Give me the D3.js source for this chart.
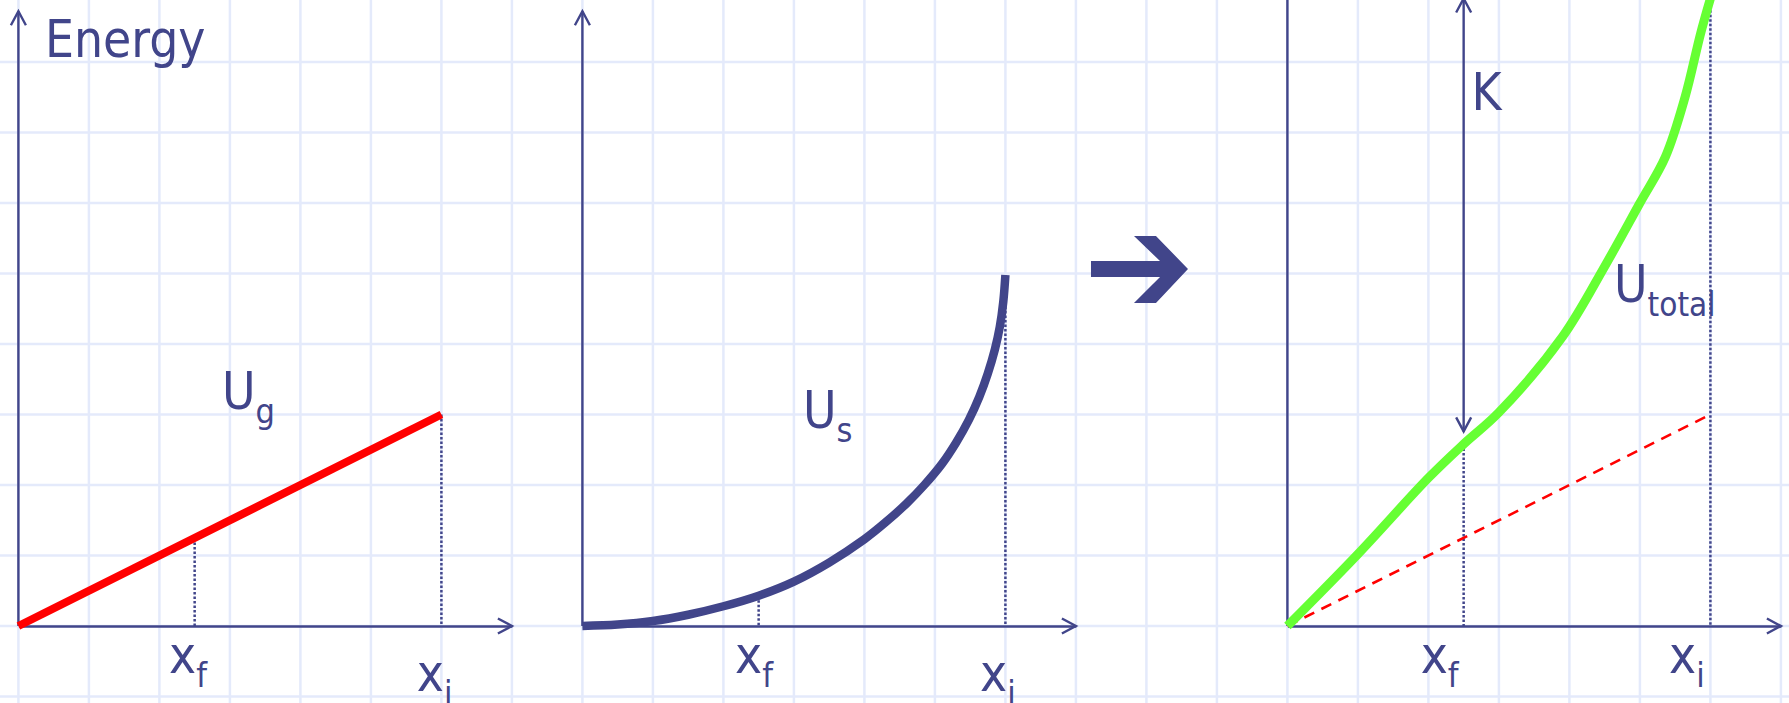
<!DOCTYPE html>
<html>
<head>
<meta charset="utf-8">
<script src="https://cdn.jsdelivr.net/npm/d3@7"></script>
<style>
html, body { margin: 0; padding: 0; background: #fff; overflow: hidden; }
svg { display: block; }
text { font-family: "DejaVu Sans Condensed", "DejaVu Sans", sans-serif; font-stretch: condensed; fill: #41458a; }
</style>
</head>
<body>
<div id="chart"></div>
<script>
// values are in grid squares
var ugX = [0, 6];
var ugY = [0, 3];
var usX = [0, 0.5, 1, 1.5, 2, 2.5, 3, 3.5, 4, 4.3, 4.6, 4.85, 5.1, 5.3, 5.48, 5.63, 5.75, 5.85, 5.92, 5.97, 6];
var usY = [0, 0.02, 0.07, 0.16, 0.28, 0.43, 0.63, 0.9, 1.23, 1.47, 1.74, 2.0, 2.3, 2.6, 2.92, 3.25, 3.58, 3.92, 4.24, 4.6, 4.98];
var totalX = [0, 1, 2, 2.5, 3, 3.9, 4.5, 5, 5.36, 5.64, 5.86, 6];
var totalY = [0, 1.02, 2.1, 2.58, 3.03, 4.1, 5.1, 6.0, 6.65, 7.5, 8.4, 8.9];
var markSubs = ["f", "i"];
var markX = [2.5, 6];
var kBottom = 2.76, kTop = 8.9;

function drawEnergy(){
    var width = 1789, height = 703;
    var cell = 70.5, left0 = 18.4, base = 626;
    var navy = "#41458a";

    var svg = d3.select("#chart")
        .append("svg")
        .attr("width", width)
        .attr("height", height);

    // global grid scales (one unit = one square)
    var gx = d3.scaleLinear().domain([0, 1]).range([left0, left0 + cell]);
    var gy = d3.scaleLinear().domain([0, 1]).range([base, base - cell]);

    svg.append("g").selectAll("line")
        .data(d3.range(-1, 26))
        .enter().append("line")
        .attr("x1", d => gx(d)).attr("x2", d => gx(d))
        .attr("y1", 0).attr("y2", height)
        .attr("stroke", "#e4eafb").attr("stroke-width", 2.5);
    svg.append("g").selectAll("line")
        .data(d3.range(-1, 10))
        .enter().append("line")
        .attr("y1", d => gy(d)).attr("y2", d => gy(d))
        .attr("x1", 0).attr("x2", width)
        .attr("stroke", "#e4eafb").attr("stroke-width", 2.5);

    function pts(xs, ys){ return xs.map((v, i) => [v, ys[i]]); }

    function chevron(g, x, y, dir){
        // open arrow head, dir: "up", "down", "right"
        var L = 14, w = 7.5, d;
        if (dir === "right") d = "M" + (x - L) + "," + (y - w) + "L" + x + "," + y + "L" + (x - L) + "," + (y + w);
        if (dir === "up") d = "M" + (x - w) + "," + (y + L) + "L" + x + "," + y + "L" + (x + w) + "," + (y + L);
        if (dir === "down") d = "M" + (x - w) + "," + (y - L) + "L" + x + "," + y + "L" + (x + w) + "," + (y - L);
        g.append("path").attr("d", d).attr("fill", "none")
            .attr("stroke", navy).attr("stroke-width", 2.4);
    }

    function label(g, x, y, main, sub, size, subSize){
        var t = g.append("text").attr("x", x).attr("y", y).style("font-size", size + "px");
        t.append("tspan").text(main);
        if (sub) t.append("tspan").attr("dy", 14).style("font-size", subSize + "px").text(sub);
    }

    function panel(col, yTop, yArrow){
        var x = d3.scaleLinear().domain([0, 7]).range([gx(col), gx(col + 7)]);
        var y = d3.scaleLinear().domain([0, 9]).range([gy(0), gy(9)]);
        var g = svg.append("g");
        return {x: x, y: y, g: g, axes: function(){
            g.append("g").attr("transform", "translate(0," + y(0) + ")")
                .call(d3.axisBottom(x).tickValues([]).tickSizeOuter(0))
                .select(".domain").attr("stroke", navy).attr("stroke-width", 2.4);
            g.append("line").attr("x1", x(0)).attr("x2", x(0))
                .attr("y1", y(0)).attr("y2", y(yTop))
                .attr("stroke", navy).attr("stroke-width", 2.4);
            chevron(g, x(7), y(0), "right");
            if (yArrow) chevron(g, x(0), y(yTop), "up");
        }};
    }

    function dotted(p, xv, y0, y1){
        p.g.append("line").attr("x1", p.x(xv)).attr("x2", p.x(xv))
            .attr("y1", p.y(y0)).attr("y2", p.y(y1))
            .attr("stroke", navy).attr("stroke-width", 2.5)
            .attr("stroke-dasharray", "2.5,2");
    }

    // ---- panel 1 : gravity ----
    var p1 = panel(0, 8.72, true);
    var ugAt = d3.scaleLinear().domain(ugX).range(ugY);
    markX.forEach(v => dotted(p1, v, ugAt(v), 0));
    p1.axes();
    var line1 = d3.line().x(d => p1.x(d[0])).y(d => p1.y(d[1]));
    p1.g.append("path").datum(pts(ugX, ugY)).attr("d", line1)
        .attr("fill", "none").attr("stroke", "#ff0000").attr("stroke-width", 8);
    label(p1.g, p1.x(0.377), p1.y(8.07), "Energy", null, 51);
    label(p1.g, p1.x(2.887), p1.y(3.078), "U", "g", 51, 34);
    label(p1.g, p1.x(markX[0] - 0.364), p1.y(-0.66), "x", markSubs[0], 51, 34);
    label(p1.g, p1.x(markX[1] - 0.35), p1.y(-0.922), "x", markSubs[1], 51, 34);

    // ---- panel 2 : spring ----
    var p2 = panel(8, 8.72, true);
    dotted(p2, markX[0], usY[5], 0);
    dotted(p2, markX[1], usY[usY.length - 1], 0);
    p2.axes();
    var line2 = d3.line().curve(d3.curveCatmullRom.alpha(0.5)).x(d => p2.x(d[0])).y(d => p2.y(d[1]));
    p2.g.append("path").datum(pts(usX, usY)).attr("d", line2)
        .attr("fill", "none").attr("stroke", navy).attr("stroke-width", 8.5);
    label(p2.g, p2.x(3.129), p2.y(2.809), "U", "s", 51, 34);
    label(p2.g, p2.x(markX[0] - 0.335), p2.y(-0.66), "x", markSubs[0], 51, 34);
    label(p2.g, p2.x(markX[1] - 0.36), p2.y(-0.922), "x", markSubs[1], 51, 34);

    // ---- block arrow between panels ----
    var arrow = [[15.214, 5.177], [16.193, 5.177], [15.824, 5.532], [16.136, 5.532], [16.59, 5.064],
                 [16.136, 4.582], [15.824, 4.582], [16.193, 4.95], [15.214, 4.95]];
    svg.append("path")
        .attr("d", "M" + arrow.map(d => gx(d[0]) + "," + gy(d[1])).join("L") + "Z")
        .attr("fill", navy);

    // ---- panel 3 : total ----
    var p3 = panel(18, 9.5, false);
    dotted(p3, markX[0], totalY[3], 0);
    dotted(p3, markX[1], 9.5, 0);
    p3.axes();
    var line3 = d3.line().x(d => p3.x(d[0])).y(d => p3.y(d[1]));
    p3.g.append("path").datum(pts(ugX, ugY)).attr("d", line3)
        .attr("fill", "none").attr("stroke", "#ff0000").attr("stroke-width", 2.6)
        .attr("stroke-dasharray", "11,8");
    var line3c = d3.line().curve(d3.curveCatmullRom.alpha(0.5)).x(d => p3.x(d[0])).y(d => p3.y(d[1]));
    p3.g.append("path").datum(pts(totalX, totalY)).attr("d", line3c)
        .attr("fill", "none").attr("stroke", "#66ff33").attr("stroke-width", 9);

    // K arrow
    p3.g.append("line").attr("x1", p3.x(markX[0])).attr("x2", p3.x(markX[0]))
        .attr("y1", p3.y(kBottom)).attr("y2", p3.y(kTop))
        .attr("stroke", navy).attr("stroke-width", 2.4);
    chevron(p3.g, p3.x(markX[0]), p3.y(kTop), "up");
    chevron(p3.g, p3.x(markX[0]), p3.y(kBottom), "down");

    label(p3.g, p3.x(2.612), p3.y(7.32), "K", null, 51);
    label(p3.g, p3.x(4.633), p3.y(4.596), "U", "total", 51, 33);
    label(p3.g, p3.x(markX[0] - 0.61), p3.y(-0.66), "x", markSubs[0], 51, 34);
    label(p3.g, p3.x(markX[1] - 0.587), p3.y(-0.66), "x", markSubs[1], 51, 34);
}

drawEnergy()
</script>
</body>
</html>
